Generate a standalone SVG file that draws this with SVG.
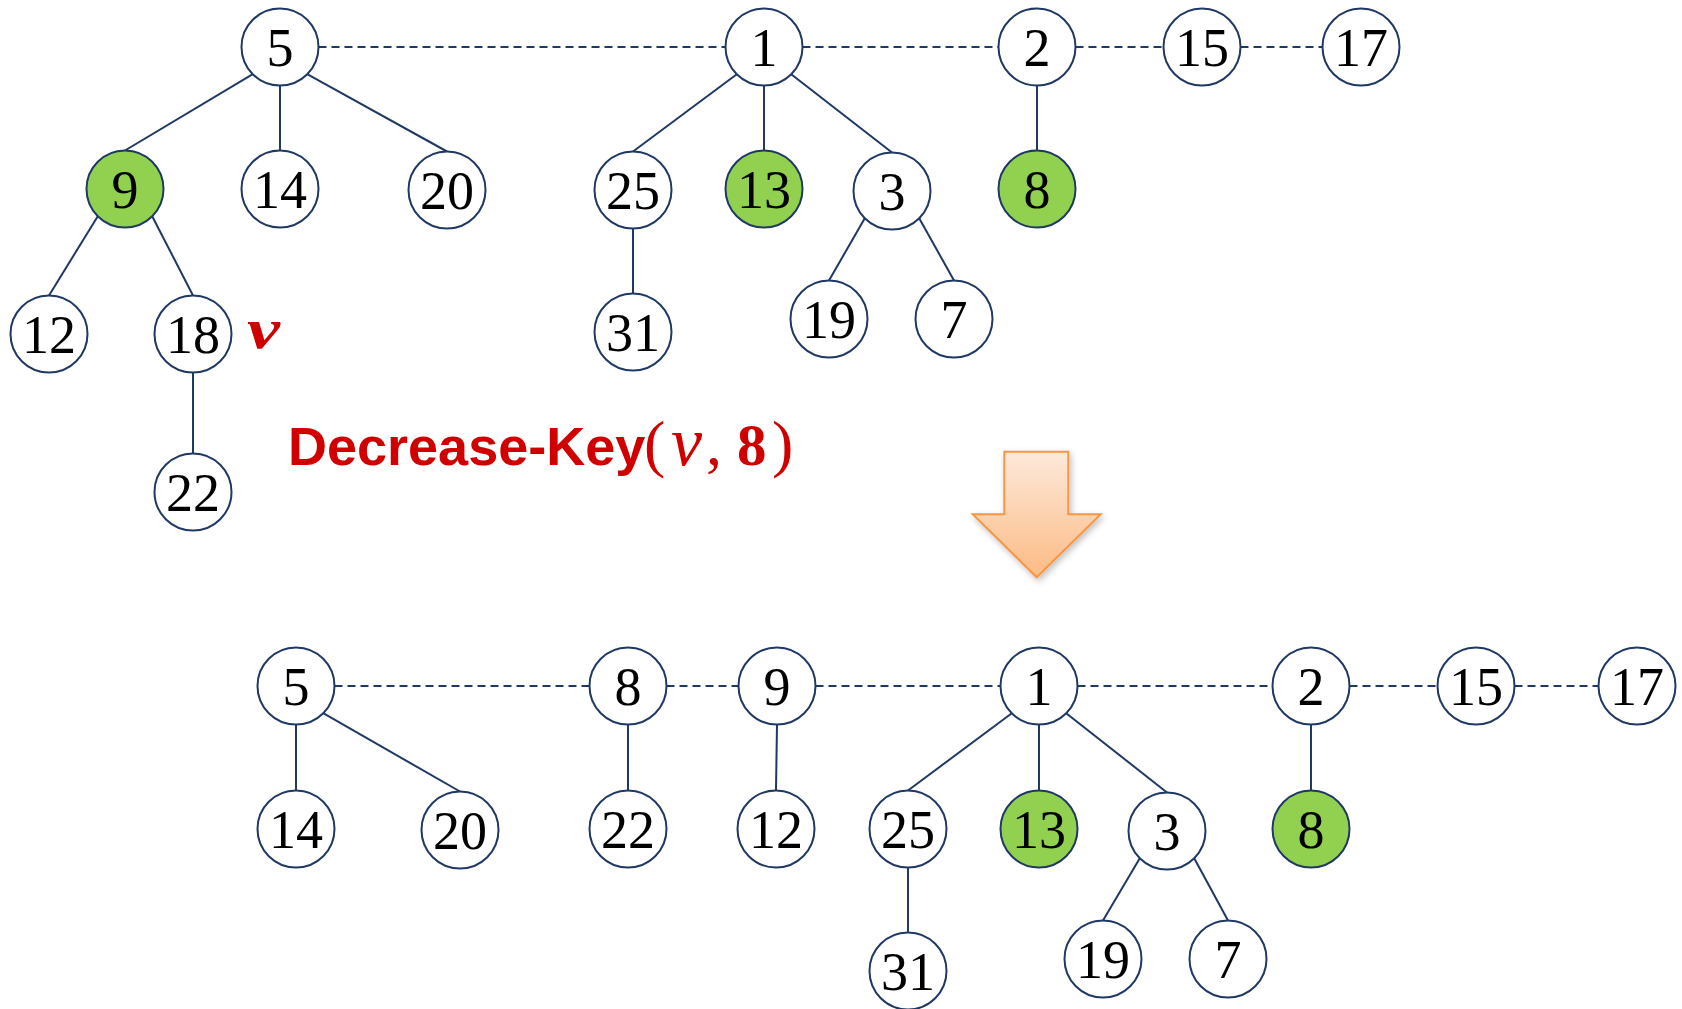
<svg xmlns="http://www.w3.org/2000/svg" width="1682" height="1009" viewBox="0 0 1682 1009">
<style>
.n{fill:#fff;stroke:#203864;stroke-width:2}
.g{fill:#92d050}
.t{font-family:"Liberation Serif",serif;font-size:54px;text-anchor:middle;fill:#000}
.e{stroke:#203864;stroke-width:2;fill:none}
.d{stroke-dasharray:8 5}
.red{fill:#d00000}
</style>
<defs>
<linearGradient id="ag" x1="0" y1="0" x2="0" y2="1">
<stop offset="0" stop-color="#fde9da"/>
<stop offset="1" stop-color="#fcbb85"/>
</linearGradient>
<filter id="sh" x="-20%" y="-20%" width="140%" height="140%">
<feDropShadow dx="2" dy="3" stdDeviation="3" flood-color="#000" flood-opacity="0.25"/>
</filter>
</defs>
<rect width="1682" height="1009" fill="#fff"/>
<g id="connectors">
<!-- top -->
<line class="e d" x1="318.5" y1="47" x2="725.5" y2="47"/>
<line class="e d" x1="802.5" y1="47" x2="998.5" y2="47"/>
<line class="e d" x1="1075.5" y1="47" x2="1163.5" y2="47"/>
<line class="e d" x1="1240.5" y1="47" x2="1322.5" y2="47"/>
<line class="e" x1="252.8" y1="74.2" x2="125" y2="150.5"/>
<line class="e" x1="280" y1="85.5" x2="280" y2="150.5"/>
<line class="e" x1="307.2" y1="74.2" x2="447" y2="151.5"/>
<line class="e" x1="97.8" y1="216.2" x2="49" y2="295.5"/>
<line class="e" x1="152.2" y1="216.2" x2="193" y2="295.5"/>
<line class="e" x1="193" y1="372.5" x2="193" y2="453.5"/>
<line class="e" x1="736.8" y1="74.2" x2="633" y2="151.5"/>
<line class="e" x1="764" y1="85.5" x2="764" y2="150.5"/>
<line class="e" x1="791.2" y1="74.2" x2="892" y2="152.5"/>
<line class="e" x1="633" y1="228.5" x2="633" y2="293.5"/>
<line class="e" x1="864.8" y1="218.2" x2="829" y2="280.5"/>
<line class="e" x1="919.2" y1="218.2" x2="954" y2="280.5"/>
<line class="e" x1="1037" y1="85.5" x2="1037" y2="150.5"/>
<!-- bottom -->
<line class="e d" x1="334.5" y1="686" x2="589.5" y2="686"/>
<line class="e d" x1="666.5" y1="686" x2="738.5" y2="686"/>
<line class="e d" x1="815.5" y1="686" x2="1000.5" y2="686"/>
<line class="e d" x1="1077.5" y1="686" x2="1272.5" y2="686"/>
<line class="e d" x1="1349.5" y1="686" x2="1437.5" y2="686"/>
<line class="e d" x1="1514.5" y1="686" x2="1598.5" y2="686"/>
<line class="e" x1="296" y1="724.5" x2="296" y2="790.5"/>
<line class="e" x1="323.2" y1="713.2" x2="460" y2="791.5"/>
<line class="e" x1="628" y1="724.5" x2="628" y2="790.5"/>
<line class="e" x1="777" y1="724.5" x2="776" y2="790.5"/>
<line class="e" x1="1011.8" y1="713.2" x2="908" y2="790.5"/>
<line class="e" x1="1039" y1="724.5" x2="1039" y2="790.5"/>
<line class="e" x1="1066.2" y1="713.2" x2="1167" y2="792.5"/>
<line class="e" x1="908" y1="867.5" x2="908" y2="932.5"/>
<line class="e" x1="1139.8" y1="858.2" x2="1103" y2="920.5"/>
<line class="e" x1="1194.2" y1="858.2" x2="1228" y2="920.5"/>
<line class="e" x1="1311" y1="724.5" x2="1311" y2="790.5"/>
</g>
<!-- top heap -->
<g id="t5"><circle class="n" cx="280" cy="47" r="38.5"/><text class="t" x="280" y="66">5</text></g>
<g id="t1"><circle class="n" cx="764" cy="47" r="38.5"/><text class="t" x="764" y="66">1</text></g>
<g id="t2"><circle class="n" cx="1037" cy="47" r="38.5"/><text class="t" x="1037" y="66">2</text></g>
<g id="t15"><circle class="n" cx="1202" cy="47" r="38.5"/><text class="t" x="1202" y="66">15</text></g>
<g id="t17"><circle class="n" cx="1361" cy="47" r="38.5"/><text class="t" x="1361" y="66">17</text></g>
<g id="t9"><circle class="n g" cx="125" cy="189" r="38.5"/><text class="t" x="125" y="208">9</text></g>
<g id="t14"><circle class="n" cx="280" cy="189" r="38.5"/><text class="t" x="280" y="208">14</text></g>
<g id="t20"><circle class="n" cx="447" cy="190" r="38.5"/><text class="t" x="447" y="209">20</text></g>
<g id="t25"><circle class="n" cx="633" cy="190" r="38.5"/><text class="t" x="633" y="209">25</text></g>
<g id="t13"><circle class="n g" cx="764" cy="189" r="38.5"/><text class="t" x="764" y="208">13</text></g>
<g id="t3"><circle class="n" cx="892" cy="191" r="38.5"/><text class="t" x="892" y="210">3</text></g>
<g id="t8"><circle class="n g" cx="1037" cy="189" r="38.5"/><text class="t" x="1037" y="208">8</text></g>
<g id="t12"><circle class="n" cx="49" cy="334" r="38.5"/><text class="t" x="49" y="353">12</text></g>
<g id="t18"><circle class="n" cx="193" cy="334" r="38.5"/><text class="t" x="193" y="353">18</text></g>
<g id="t31"><circle class="n" cx="633" cy="332" r="38.5"/><text class="t" x="633" y="351">31</text></g>
<g id="t19"><circle class="n" cx="829" cy="319" r="38.5"/><text class="t" x="829" y="338">19</text></g>
<g id="t7"><circle class="n" cx="954" cy="319" r="38.5"/><text class="t" x="954" y="338">7</text></g>
<g id="t22"><circle class="n" cx="193" cy="492" r="38.5"/><text class="t" x="193" y="511">22</text></g>
<g id="vlabel"><text class="red" x="247" y="348" font-family="Liberation Serif,serif" font-size="56" font-style="italic" font-weight="bold" textLength="33" lengthAdjust="spacingAndGlyphs">v</text></g>
<g id="title">
<text class="red" y="465"><tspan x="288" font-family="Liberation Sans,Arial,sans-serif" font-size="54" font-weight="bold">Decrease-Key</tspan><tspan x="644" font-family="Liberation Serif,serif" font-size="64">(</tspan><tspan x="671" font-family="Liberation Serif,serif" font-size="70" font-style="italic">v</tspan><tspan x="706" font-family="Liberation Serif,serif" font-size="64">,</tspan><tspan x="737" font-family="Liberation Serif,serif" font-size="59" font-weight="bold">8</tspan><tspan x="772" font-family="Liberation Serif,serif" font-size="64">)</tspan></text>
</g>
<g id="arrow"><polygon points="1004.3,451.7 1068.3,451.7 1068.3,514.3 1100.7,514.3 1036.7,577.3 972.7,514.3 1004.3,514.3" fill="url(#ag)" stroke="#f79646" stroke-width="2" filter="url(#sh)"/></g>
<!-- bottom heap -->
<g id="b5"><circle class="n" cx="296" cy="686" r="38.5"/><text class="t" x="296" y="705">5</text></g>
<g id="b8"><circle class="n" cx="628" cy="686" r="38.5"/><text class="t" x="628" y="705">8</text></g>
<g id="b9"><circle class="n" cx="777" cy="686" r="38.5"/><text class="t" x="777" y="705">9</text></g>
<g id="b1"><circle class="n" cx="1039" cy="686" r="38.5"/><text class="t" x="1039" y="705">1</text></g>
<g id="b2"><circle class="n" cx="1311" cy="686" r="38.5"/><text class="t" x="1311" y="705">2</text></g>
<g id="b15"><circle class="n" cx="1476" cy="686" r="38.5"/><text class="t" x="1476" y="705">15</text></g>
<g id="b17"><circle class="n" cx="1637" cy="686" r="38.5"/><text class="t" x="1637" y="705">17</text></g>
<g id="b14"><circle class="n" cx="296" cy="829" r="38.5"/><text class="t" x="296" y="848">14</text></g>
<g id="b20"><circle class="n" cx="460" cy="830" r="38.5"/><text class="t" x="460" y="849">20</text></g>
<g id="b22"><circle class="n" cx="628" cy="829" r="38.5"/><text class="t" x="628" y="848">22</text></g>
<g id="b12"><circle class="n" cx="776" cy="829" r="38.5"/><text class="t" x="776" y="848">12</text></g>
<g id="b25"><circle class="n" cx="908" cy="829" r="38.5"/><text class="t" x="908" y="848">25</text></g>
<g id="b13"><circle class="n g" cx="1039" cy="829" r="38.5"/><text class="t" x="1039" y="848">13</text></g>
<g id="b3"><circle class="n" cx="1167" cy="831" r="38.5"/><text class="t" x="1167" y="850">3</text></g>
<g id="b8g"><circle class="n g" cx="1311" cy="829" r="38.5"/><text class="t" x="1311" y="848">8</text></g>
<g id="b31"><circle class="n" cx="908" cy="971" r="38.5"/><text class="t" x="908" y="990">31</text></g>
<g id="b19"><circle class="n" cx="1103" cy="959" r="38.5"/><text class="t" x="1103" y="978">19</text></g>
<g id="b7"><circle class="n" cx="1228" cy="959" r="38.5"/><text class="t" x="1228" y="978">7</text></g>
</svg>
